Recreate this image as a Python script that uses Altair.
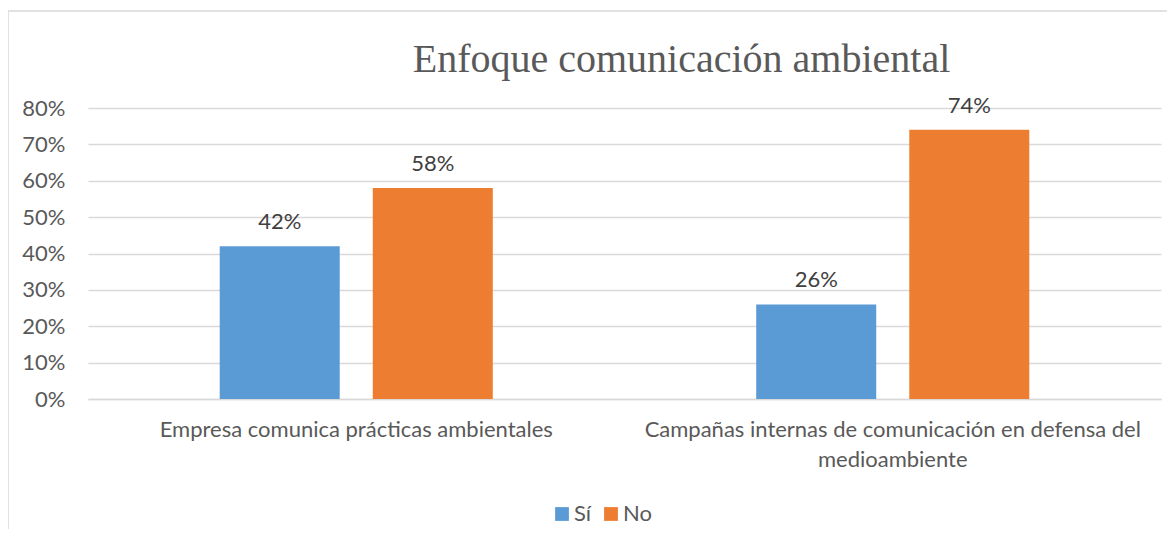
import altair as alt
import pandas as pd

categories = [
    "Empresa comunica prácticas ambientales",
    "Campañas internas de comunicación en defensa del medioambiente",
]
series = ["Sí", "No"]
si_values = [0.42, 0.26]
no_values = [0.58, 0.74]

rows = []
for i, c in enumerate(categories):
    rows.append({"cat": c, "serie": "Sí", "valor": si_values[i]})
    rows.append({"cat": c, "serie": "No", "valor": no_values[i]})
df = pd.DataFrame(rows)

FONT = "Lato"
FS = 22
W, H = 1073, 291

label_expr = (
    "datum.value == 'Campañas internas de comunicación en defensa del medioambiente' "
    "? ['Campañas internas de comunicación en defensa del', 'medioambiente'] : datum.value"
)

x = alt.X(
    "cat:N",
    sort=categories,
    title=None,
    scale=alt.Scale(paddingInner=0.491, paddingOuter=0.2455),
    axis=alt.Axis(
        labelAngle=0,
        labelExpr=label_expr,
        labelFont=FONT,
        labelFontSize=FS,
        labelColor="#595959",
        labelPadding=20,
        labelLineHeight=30,
        ticks=False,
        domain=True,
        domainColor="#d9d9d9",
        domainWidth=1.5,
        labelLimit=0,
    ),
)
xoff = alt.XOffset("serie:N", sort=series, scale=alt.Scale(paddingInner=0.216, paddingOuter=0))
y = alt.Y(
    "valor:Q",
    title=None,
    scale=alt.Scale(domain=[0, 0.8], nice=False),
    axis=alt.Axis(
        format=".0%",
        values=[0, 0.1, 0.2, 0.3, 0.4, 0.5, 0.6, 0.7, 0.8],
        labelFont=FONT,
        labelFontSize=FS,
        labelColor="#595959",
        labelPadding=23,
        ticks=False,
        domain=False,
        grid=True,
        gridColor="#d9d9d9",
        gridWidth=1.5,
    ),
)
color = alt.Color(
    "serie:N",
    sort=series,
    scale=alt.Scale(domain=series, range=["#5B9BD5", "#ED7D31"]),
    legend=alt.Legend(
        title=None,
        orient="none",
        direction="horizontal",
        legendX=463,
        legendY=395,
        symbolType="square",
        symbolSize=190,
        symbolStrokeWidth=0,
        labelFont=FONT,
        labelFontSize=FS,
        labelColor="#595959",
        columnPadding=8,
        labelOffset=1,
    ),
)

base = alt.Chart(df)
bars = base.mark_bar().encode(x=x, xOffset=xoff, y=y, color=color)
labels = base.mark_text(
    font=FONT, fontSize=FS, color="#404040", baseline="alphabetic", dy=-17
).encode(x=x, xOffset=xoff, y=y, text=alt.Text("valor:Q", format=".0%"))

frame = alt.Chart(pd.DataFrame({"k": [0]})).mark_rect(
    filled=False, stroke="#d9d9d9", strokeWidth=1.5
).encode(
    x=alt.value(-80), x2=alt.value(W + 40), y=alt.value(-97), y2=alt.value(H + 200)
)

chart = alt.layer(frame, bars, labels).properties(
    width=W,
    height=H,
    title=alt.TitleParams(
        "Enfoque comunicación ambiental",
        font="Liberation Serif",
        fontSize=40,
        fontWeight="normal",
        color="#595959",
        anchor="middle",
        frame="group",
        baseline="alphabetic",
        dx=57,
        offset=-102,
    ),
    autosize=alt.AutoSizeParams(type="none"),
    padding={"left": 80, "top": 100, "right": 6, "bottom": 130},
).configure_view(stroke=None)

chart.save("out.html", embed_options={"renderer": "svg", "actions": False})
